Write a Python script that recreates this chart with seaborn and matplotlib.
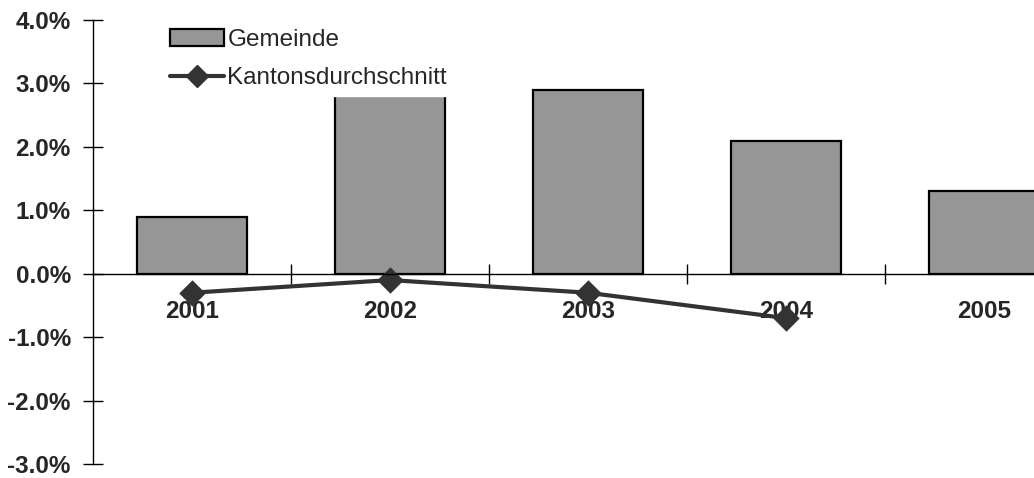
import numpy as np
import pandas as pd
import seaborn as sns
import matplotlib.pyplot as plt
from matplotlib.patches import Patch
from matplotlib.lines import Line2D
from matplotlib.ticker import FuncFormatter, FixedLocator

# Data (percent)
years = ["2001", "2002", "2003", "2004", "2005"]
gemeinde = [0.9, 3.2, 2.9, 2.1, 1.3]
kanton = [-0.3, -0.1, -0.3, -0.7, np.nan]

df = pd.DataFrame({"Jahr": years, "Gemeinde": gemeinde, "Kanton": kanton})

sns.set_style("white")
plt.rcParams["font.family"] = ["Liberation Sans", "DejaVu Sans"]

fig = plt.figure(figsize=(10.34, 4.78), dpi=100)
ax = fig.add_axes([93 / 1034, 1 - 464 / 478, 990 / 1034, 444 / 478])

bar_color = "#969696"
line_color = "#333333"

sns.barplot(data=df, x="Jahr", y="Gemeinde", order=years, color=bar_color,
            width=0.56, edgecolor="black", linewidth=1.6, saturation=1, ax=ax)
sns.pointplot(data=df.dropna(), x="Jahr", y="Kanton", order=years, color=line_color,
              markers="D", markersize=11, linewidth=3, ax=ax)

ax.set_xlim(-0.5, 4.5)
ax.set_ylim(-3, 4)
ax.set_xlabel("")
ax.set_ylabel("")

# spines
for s in ["top", "right"]:
    ax.spines[s].set_visible(False)
ax.spines["left"].set_color("black")
ax.spines["left"].set_linewidth(1)
ax.spines["bottom"].set_position(("data", 0))
ax.spines["bottom"].set_color("black")
ax.spines["bottom"].set_linewidth(1)

# y axis
ax.set_yticks(np.arange(-3, 5, 1))
ax.yaxis.set_major_formatter(FuncFormatter(lambda v, p: f"{v:.1f}%"))
ax.tick_params(axis="y", which="major", direction="inout", length=14, width=1,
               color="black", labelsize=17.5, pad=9, left=True)
for lbl in ax.get_yticklabels():
    lbl.set_fontweight("bold")

# x axis: labels at centers, ticks between categories
ax.tick_params(axis="x", which="major", length=0, labelsize=17.5, pad=19)
for lbl in ax.get_xticklabels():
    lbl.set_fontweight("bold")
ax.xaxis.set_minor_locator(FixedLocator(np.arange(0.5, 4.5, 1)))
ax.tick_params(axis="x", which="minor", direction="inout", length=14, width=1,
               color="black", bottom=True)

# legend
handles = [
    Patch(facecolor=bar_color, edgecolor="black", linewidth=1.6),
    Line2D([], [], color=line_color, linewidth=3, marker="D", markersize=11),
]
leg = fig.legend(handles, ["Gemeinde", "Kantonsdurchschnitt"],
                 loc="upper left", bbox_to_anchor=(163 / 1034, 1 - 22 / 478),
                 frameon=True, fancybox=False, fontsize=17.5, handlelength=2.2,
                 handleheight=0.7, handletextpad=0.15, labelspacing=0.65,
                 borderpad=0.3, borderaxespad=0)
leg.get_frame().set_facecolor("white")
leg.get_frame().set_edgecolor("white")
leg.get_frame().set_alpha(1)

fig.savefig("out.png", dpi=100)
